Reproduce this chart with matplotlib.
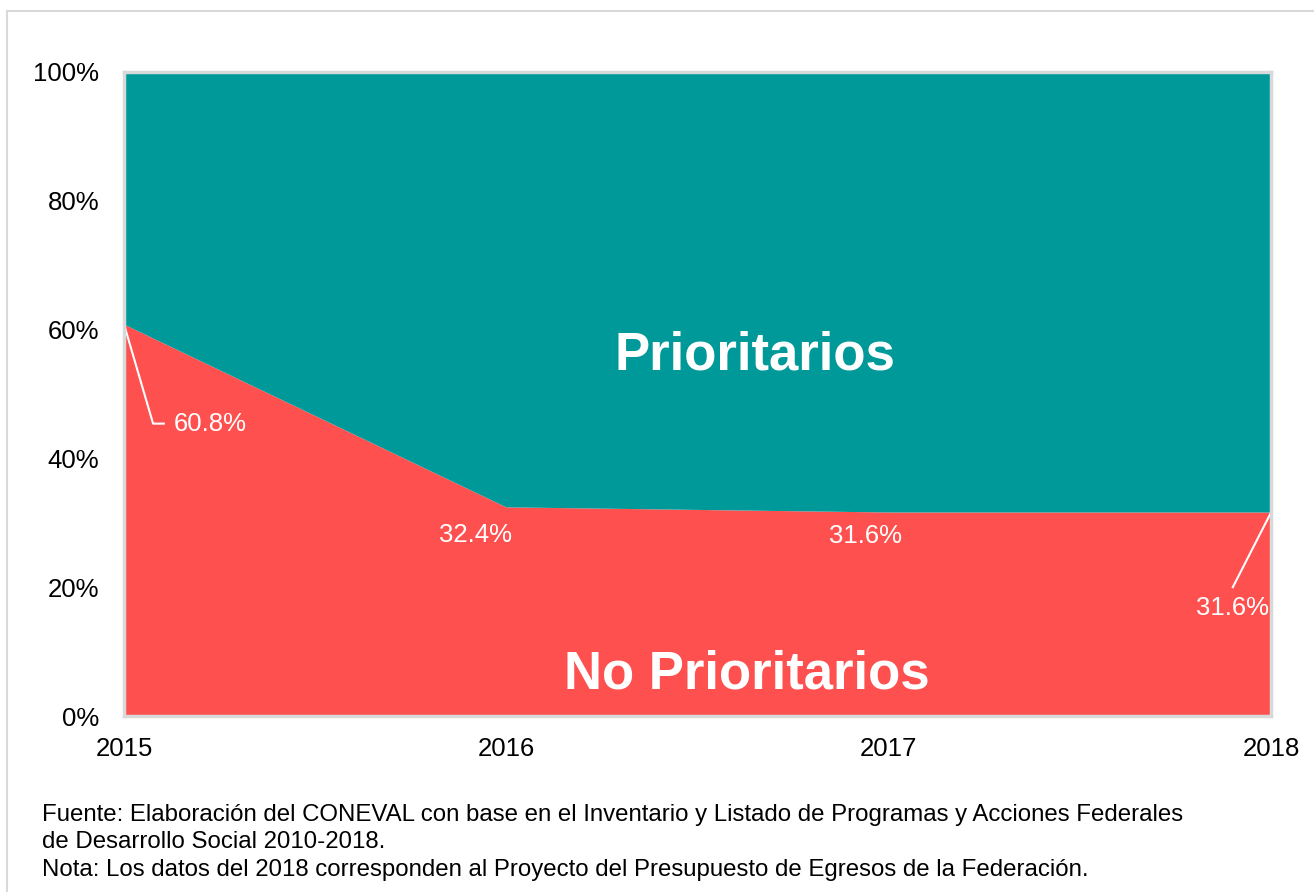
import matplotlib.pyplot as plt
from matplotlib.lines import Line2D

plt.rcParams['font.family'] = ['Liberation Sans', 'DejaVu Sans']

years = [2015, 2016, 2017, 2018]
no_prioritarios = [60.8, 32.4, 31.6, 31.6]
prioritarios = [100 - v for v in no_prioritarios]
value_labels = ['60.8%', '32.4%', '31.6%', '31.6%']
yticks = [0, 20, 40, 60, 80, 100]

red = '#FF5050'
teal = '#009999'
grey = '#D9D9D9'

fig = plt.figure(figsize=(13.14, 8.92), dpi=100)
ax = fig.add_axes([0.0944, 0.1973, 0.8729, 0.722])

ax.stackplot(years, no_prioritarios, prioritarios, colors=[red, teal], linewidth=0)
ax.set_xlim(2015, 2018)
ax.set_ylim(0, 100)
ax.set_xticks(years)
ax.set_xticklabels([str(y) for y in years], fontsize=18.5)
ax.set_yticks(yticks)
ax.set_yticklabels([f'{t}%' for t in yticks], fontsize=18.5)
ax.tick_params(length=0)
ax.tick_params(axis='y', pad=18)
ax.tick_params(axis='x', pad=15)
for s in ax.spines.values():
    s.set_color(grey)
    s.set_linewidth(2.5)

# data labels with leader lines
ax.plot([2015, 2015.076, 2015.104], [60.8, 45.4, 45.4], color='white', lw=1.5, clip_on=False)
ax.text(2015.225, 45.3, value_labels[0], color='white', fontsize=18.5, ha='center', va='center')
ax.text(2015.92, 28.1, value_labels[1], color='white', fontsize=18.5, ha='center', va='center')
ax.text(2016.94, 28.0, value_labels[2], color='white', fontsize=18.5, ha='center', va='center')
ax.plot([2018, 2017.9], [31.6, 20.0], color='white', lw=1.5, clip_on=False)
ax.text(2017.9, 16.8, value_labels[3], color='white', fontsize=18.5, ha='center', va='center')

ax.text(2016.65, 56.0, 'Prioritarios', color='white', fontsize=38, fontweight='bold',
        ha='center', va='center')
ax.text(2016.63, 6.5, 'No Prioritarios', color='white', fontsize=38, fontweight='bold',
        ha='center', va='center')

notes = ['Fuente: Elaboración del CONEVAL con base en el Inventario y Listado de Programas y Acciones Federales',
         'de Desarrollo Social 2010-2018.',
         'Nota: Los datos del 2018 corresponden al Proyecto del Presupuesto de Egresos de la Federación.']
for i, line in enumerate(notes):
    fig.text(42 / 1314, 1 - (815 + 27.5 * i) / 892, line, fontsize=17.3, va='center', ha='left')

# outer frame (top and left edges visible)
fig.add_artist(Line2D([7 / 1314, 7 / 1314], [0, 1 - 10.5 / 892], color=grey, lw=1.5,
                      transform=fig.transFigure))
fig.add_artist(Line2D([7 / 1314, 1], [1 - 10.5 / 892, 1 - 10.5 / 892], color=grey, lw=1.5,
                      transform=fig.transFigure))

fig.savefig('out.png', dpi=100)
